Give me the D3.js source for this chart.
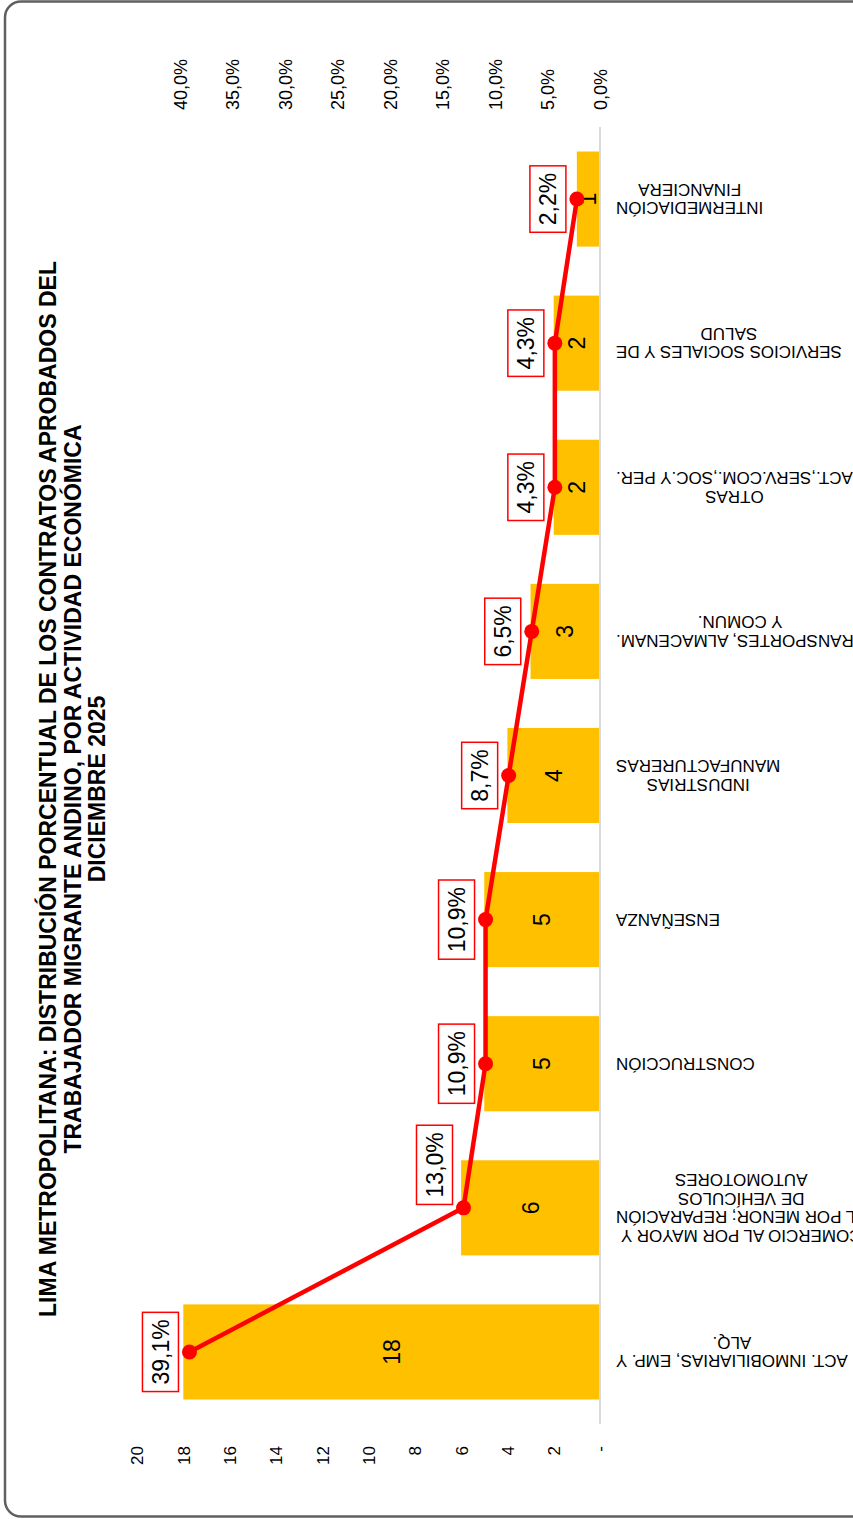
<!DOCTYPE html>
<html>
<head>
<meta charset="utf-8">
<script src="https://cdn.jsdelivr.net/npm/d3@7"></script>
<style>
  html, body { margin: 0; padding: 0; background: #fff; }
  svg { display: block; font-family: Arial, "Liberation Sans", sans-serif; }
</style>
</head>
<body>
<div id="root"></div>
<script>
// ——— données
const categorias = [
  ["ACT. INMOBILIARIAS, EMP. Y", "ALQ."],
  ["COMERCIO AL POR MAYOR Y", "AL POR MENOR; REPARACIÓN", "DE VEHÍCULOS", "AUTOMOTORES"],
  ["CONSTRUCCIÓN"],
  ["ENSEÑANZA"],
  ["INDUSTRIAS", "MANUFACTURERAS"],
  ["TRANSPORTES, ALMACENAM.", "Y COMUN."],
  ["OTRAS", "ACT.,SERV.COM.,SOC.Y PER."],
  ["SERVICIOS SOCIALES Y DE", "SALUD"],
  ["INTERMEDIACIÓN", "FINANCIERA"]
];
const contratos   = [18, 6, 5, 5, 4, 3, 2, 2, 1];
const porcentajes = [0.391, 0.130, 0.109, 0.109, 0.087, 0.065, 0.043, 0.043, 0.022];
const ticksConteo = [0, 2, 4, 6, 8, 10, 12, 14, 16, 18, 20];
const ticksPct    = [0, 0.05, 0.10, 0.15, 0.20, 0.25, 0.30, 0.35, 0.40];
const titulo = [
  "LIMA METROPOLITANA: DISTRIBUCIÓN PORCENTUAL  DE LOS CONTRATOS APROBADOS DEL",
  "TRABAJADOR MIGRANTE ANDINO, POR ACTIVIDAD ECONÓMICA",
  "DICIEMBRE 2025"
];

// ——— utils
const loc = d3.formatLocale({ decimal: ",", thousands: ".", grouping: [3], currency: ["", ""] });
const fmtPct = loc.format(".1%");

const W = 853, H = 1519;
const svg = d3.select("#root").append("svg").attr("width", W).attr("height", H);

// cadre
svg.append("rect")
  .attr("x", 5).attr("y", 1.5).attr("width", W + 30).attr("height", 1515)
  .attr("rx", 16).attr("fill", "#fff")
  .attr("stroke", "#606060").attr("stroke-width", 2.5);

// ——— échelles (graphique tourné : barres horizontales, zéro à droite)
const keys = categorias.map(c => c.join(" "));
const y = d3.scaleBand().domain(keys).range([1424, 127])
  .paddingInner(0.34).paddingOuter(0.17);
const bw = y.bandwidth();
const cy = k => y(k) + bw / 2;
const xN = d3.scaleLinear().domain([0, 20]).range([600, 137]);
const xP = d3.scaleLinear().domain([0, 0.40]).range([600, 180]);

const rows = keys.map((k, i) => ({ k, lines: categorias[i], n: contratos[i], p: porcentajes[i], i }));

// axe des effectifs (bas)
const gN = svg.append("g")
  .attr("transform", "translate(0,1446)")
  .call(d3.axisBottom(xN).tickValues(ticksConteo).tickSize(0)
    .tickFormat(d => d === 0 ? "-" : d));
gN.attr("font-family", null).attr("font-size", null);
gN.select(".domain").remove();
gN.selectAll("text")
  .attr("transform", "rotate(-90)").attr("x", 0).attr("y", 0).attr("dy", "0.35em")
  .attr("text-anchor", "end").attr("fill", "#000").style("font-size", "17px");

// axe des pourcentages (haut)
const gP = svg.append("g")
  .attr("transform", "translate(0,110)")
  .call(d3.axisTop(xP).tickValues(ticksPct).tickSize(0).tickFormat(fmtPct));
gP.attr("font-family", null).attr("font-size", null);
gP.select(".domain").remove();
gP.selectAll("text")
  .attr("transform", "rotate(-90)").attr("x", 0).attr("y", 0).attr("dy", "0.35em")
  .attr("text-anchor", "start").attr("fill", "#000").style("font-size", "18px");

// ——— barres
svg.selectAll(".bar").data(rows).enter().append("rect")
  .attr("class", "bar")
  .attr("x", d => xN(d.n))
  .attr("width", d => xN(0) - xN(d.n))
  .attr("y", d => y(d.k))
  .attr("height", bw)
  .attr("fill", "#FFC000");

// ligne de base
svg.append("line")
  .attr("x1", xN(0)).attr("x2", xN(0))
  .attr("y1", 127).attr("y2", 1424)
  .attr("stroke", "#d9d9d9").attr("stroke-width", 2);

// valeurs dans les barres
svg.selectAll(".val").data(rows).enter().append("text")
  .attr("class", "val")
  .attr("transform", d => `translate(${xN(d.n / 2)},${cy(d.k)}) rotate(-90)`)
  .attr("text-anchor", "middle").attr("dy", "0.35em")
  .style("font-size", "23px")
  .text(d => d.n);

// ——— libellés de catégories (à l'envers, comme dans l'original)
const catG = svg.selectAll(".cat").data(rows).enter().append("g")
  .attr("class", "cat")
  .attr("transform", d => `translate(616,${cy(d.k)}) rotate(180)`);
catG.each(function (d) {
  const g = d3.select(this);
  const lh = 18.5;
  const texts = d.lines.map((l, j) => g.append("text")
    .attr("y", (j - (d.lines.length - 1) / 2) * lh)
    .attr("dy", "0.35em")
    .attr("text-anchor", "middle")
    .style("font-size", "17px")
    .text(l));
  const maxW = d3.max(texts, t => t.node().getComputedTextLength());
  texts.forEach(t => t.attr("x", -maxW / 2));
});

// ——— courbe des pourcentages
svg.append("path")
  .datum(rows)
  .attr("fill", "none")
  .attr("stroke", "#FF0000")
  .attr("stroke-width", 4.5)
  .attr("stroke-linejoin", "round")
  .attr("d", d3.line().x(d => xP(d.p)).y(d => cy(d.k)));

svg.selectAll(".pt").data(rows).enter().append("circle")
  .attr("class", "pt")
  .attr("cx", d => xP(d.p)).attr("cy", d => cy(d.k))
  .attr("r", 7.5).attr("fill", "#FF0000");

// étiquettes encadrées (celle du commerce déplacée à la main dans l'original)
const nudge = { 1: -43 };
const lab = svg.selectAll(".pl").data(rows).enter().append("g")
  .attr("class", "pl")
  .attr("transform", d => `translate(${xP(d.p) - 11 - 18},${cy(d.k) + (nudge[d.i] || 0)})`);
lab.each(function (d) {
  const g = d3.select(this);
  const r = g.append("rect").attr("fill", "#fff").attr("stroke", "#FF0000").attr("stroke-width", 1.5);
  const t = g.append("text")
    .attr("transform", "rotate(-90)")
    .attr("text-anchor", "middle").attr("dy", "0.35em")
    .style("font-size", "23px")
    .text(fmtPct(d.p));
  const len = t.node().getComputedTextLength() + 14;
  r.attr("x", -18).attr("width", 36).attr("y", -len / 2).attr("height", len);
});

// ——— titre
svg.append("g").selectAll("text").data(titulo).enter().append("text")
  .attr("transform", (d, i) => `translate(${48 + i * 24.5},789) rotate(-90)`)
  .attr("text-anchor", "middle").attr("dy", "0.35em")
  .style("font-size", "23px").style("font-weight", "bold")
  .text(d => d);
</script>
</body>
</html>
